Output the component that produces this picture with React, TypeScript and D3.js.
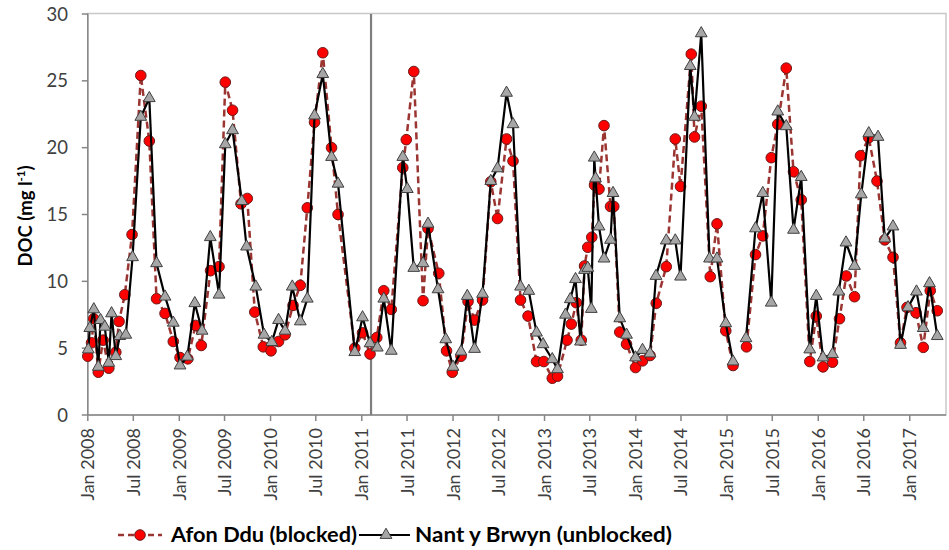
import React from "react";
import * as d3 from "d3";

const W = 949;
const H = 550;

// Afon Ddu (blocked)
const afonDates = [
  "2008-01-01","2008-01-16","2008-01-25","2008-02-12","2008-03-02","2008-03-25","2008-04-22","2008-05-05","2008-05-28","2008-06-26",
  "2008-07-31","2008-09-03","2008-10-02","2008-11-05","2008-12-08","2009-01-04","2009-02-04","2009-03-07","2009-03-30","2009-05-06",
  "2009-06-09","2009-07-04","2009-08-02","2009-09-05","2009-09-30","2009-10-30","2009-12-03","2010-01-03","2010-02-02","2010-02-28",
  "2010-04-01","2010-04-30","2010-05-28","2010-06-26","2010-07-29","2010-09-02","2010-09-28","2010-12-04","2011-01-04","2011-02-03",
  "2011-03-02","2011-03-30","2011-04-29","2011-06-14","2011-06-28","2011-07-28","2011-09-03","2011-09-23","2011-11-05","2011-12-06",
  "2011-12-29","2012-02-02","2012-03-01","2012-03-27","2012-04-28","2012-05-31","2012-06-27","2012-08-02","2012-08-28","2012-09-27",
  "2012-10-27","2012-11-30","2012-12-29","2013-02-01","2013-02-22","2013-04-01","2013-04-18","2013-05-08","2013-05-28","2013-06-10",
  "2013-06-23","2013-07-09","2013-07-20","2013-08-07","2013-08-27","2013-09-22","2013-10-05","2013-10-29","2013-11-25","2013-12-31",
  "2014-01-28","2014-02-27","2014-03-24","2014-05-03","2014-06-08","2014-06-29","2014-08-11","2014-08-24","2014-09-20","2014-10-26",
  "2014-11-22","2014-12-27","2015-01-25","2015-02-20","2015-03-20","2015-04-25","2015-05-24","2015-06-27","2015-07-23","2015-08-26",
  "2015-09-24","2015-10-25","2015-11-28","2015-12-24","2016-01-20","2016-02-27","2016-03-26","2016-04-22","2016-05-25","2016-06-18",
  "2016-07-21","2016-08-23","2016-09-23","2016-10-26","2016-11-25","2016-12-21","2017-01-26","2017-02-24","2017-03-24","2017-04-21",
];
const afonValues: (number | null)[] = [
  4.4, 5.4, 7.2, 3.2, 5.6, 3.5, 4.7, 7.0, 9.0, 13.5,
  25.4, 20.5, 8.7, 7.6, 5.5, 4.3, 4.2, 6.7, 5.2, 10.8,
  11.1, 24.9, 22.8, 15.8, 16.2, 7.7, 5.1, 4.8, 5.5, 6.0,
  8.2, 9.7, 15.5, 21.9, 27.1, 20.0, 15.0, 5.0, 6.15, 4.56,
  5.8, 9.3, 7.9, 18.5, 20.6, 25.7, 8.55, 13.95, 10.6, 4.8,
  3.2, 4.4, 8.5, 7.1, 8.6, 17.45, 14.7, 20.65, 19.0, 8.6,
  7.4, 4.0, 4.0, 2.75, 2.9, 5.6, 6.8, 8.4, 5.6, 11.15,
  12.55, 13.3, 17.2, 16.9, 21.65, 15.6, 15.6, 6.2, 5.3, 3.55,
  4.05, 4.45, 8.36, 11.1, 20.65, 17.1, 27.0, 20.8, 23.1, 10.35,
  14.3, 6.3, 3.7, null, 5.1, 12.0, 13.4, 19.25, 21.75, 25.95,
  18.2, 16.1, 4.0, 7.4, 3.6, 3.95, 7.2, 10.4, 8.85, 19.4,
  20.75, 17.5, 13.1, 11.8, 5.4, 8.05, 7.65, 5.06, 9.3, 7.8,
];

// Nant y Brwyn (unblocked)
const nantDates = [
  "2008-01-03","2008-01-09","2008-01-25","2008-02-12","2008-02-21","2008-03-09","2008-03-25","2008-04-05","2008-04-22","2008-05-08",
  "2008-06-01","2008-06-28","2008-07-31","2008-09-03","2008-10-02","2008-11-05","2008-12-08","2009-01-04","2009-02-02","2009-03-04",
  "2009-04-02","2009-05-05","2009-06-09","2009-07-04","2009-08-02","2009-09-08","2009-09-27","2009-11-03","2009-12-06","2010-01-06",
  "2010-02-02","2010-02-28","2010-03-29","2010-04-30","2010-05-28","2010-06-26","2010-07-29","2010-09-02","2010-09-28","2010-12-04",
  "2011-01-04","2011-02-03","2011-03-04","2011-03-30","2011-04-29","2011-06-14","2011-07-02","2011-07-28","2011-09-03","2011-09-23",
  "2011-11-02","2011-12-03","2012-01-01","2012-02-02","2012-02-27","2012-03-27","2012-04-28","2012-05-31","2012-06-27","2012-08-02",
  "2012-08-28","2012-09-27","2012-10-30","2012-11-30","2012-12-26","2013-02-01","2013-02-22","2013-03-26","2013-04-14","2013-05-05",
  "2013-05-25","2013-06-10","2013-06-23","2013-07-07","2013-07-19","2013-07-24","2013-08-07","2013-08-27","2013-09-22","2013-10-02",
  "2013-10-29","2013-11-25","2013-12-31","2014-01-28","2014-02-27","2014-03-23","2014-05-03","2014-06-08","2014-06-29","2014-08-07",
  "2014-08-24","2014-09-20","2014-10-23","2014-11-22","2014-12-27","2015-01-25","2015-02-20","2015-03-18","2015-04-25","2015-05-24",
  "2015-06-27","2015-07-23","2015-08-26","2015-09-24","2015-10-25","2015-11-28","2015-12-24","2016-01-20","2016-02-27","2016-03-23",
  "2016-04-21","2016-05-25","2016-06-21","2016-07-21","2016-08-27","2016-09-23","2016-10-26","2016-11-25","2016-12-25","2017-01-28",
  "2017-02-24","2017-03-21","2017-04-21",
];
const nantValues: (number | null)[] = [
  4.9, 6.5, 7.9, 3.6, 7.1, 6.6, 3.9, 7.6, 4.4, 5.9,
  6.0, 11.8, 22.3, 23.7, 11.35, 8.85, 6.9, 3.7, 4.36, 8.36,
  6.3, 13.3, 9.0, 20.25, 21.3, 16.0, 12.6, 9.6, 6.0, 5.45,
  7.1, 6.3, 9.6, 7.0, 8.7, 22.4, 25.5, 19.3, 17.3, 4.7,
  7.3, 5.36, 5.04, 8.7, 4.8, 19.3, 16.9, 11.0, 11.35, 14.3,
  9.4, 5.66, 3.6, 4.74, 8.9, 4.94, 9.06, 17.5, 18.45, 24.1,
  21.75, 9.6, 9.28, 6.16, 5.29, 4.17, 3.42, 7.5, 8.66, 10.16,
  5.49, 10.85, 11.0, 7.93, 19.25, 17.7, 14.1, 11.7, 13.1, 16.6,
  7.23, 6.0, 4.3, 4.86, 4.6, 10.4, 13.05, 13.05, 10.35, 26.1,
  22.3, 28.55, 11.7, 11.7, 6.86, 4.0, null, 5.74, 13.96, 16.6,
  8.4, 22.7, 21.6, 13.85, 17.8, 4.9, 8.9, 4.3, 4.55, 9.23,
  12.9, 11.15, 16.5, 21.07, 20.8, 13.2, 14.1, 5.24, 8.05, 9.23,
  6.5, 9.85, 5.9,
];

const seriesNames = ["Afon Ddu (blocked)", "Nant y Brwyn (unblocked)"];
const yTicks = [0, 5, 10, 15, 20, 25, 30];
const xDomain = ["2008-01-01", "2017-05-26"];
const blockingDate = "2011-02-07";
const yTitle = "DOC (mg l";

const parse = d3.timeParse("%Y-%m-%d");
const fmt = d3.timeFormat("%b %Y");

type Pt = { d: Date; v: number | null };

export default function App() {
  const left = 87.8, right = 946, top = 14, bottom = 415;
  const x = d3.scaleTime().domain(xDomain.map((s) => parse(s) as Date)).range([left, right]);
  const y = d3.scaleLinear().domain([0, 30]).range([bottom, top]);

  const afon: Pt[] = afonDates.map((s, i) => ({ d: parse(s) as Date, v: afonValues[i] }));
  const nant: Pt[] = nantDates.map((s, i) => ({ d: parse(s) as Date, v: nantValues[i] }));

  const line = d3
    .line<Pt>()
    .defined((p) => p.v !== null)
    .x((p) => x(p.d))
    .y((p) => y(p.v as number));

  const xTicks = d3.timeMonth.every(6)!.range(parse("2008-01-01") as Date, parse("2017-02-01") as Date);
  const tri = d3.symbol(d3.symbolTriangle, 60)() as string;
  const bx = x(parse(blockingDate) as Date);

  const redLine = "#9b3532";
  const font = "Lato, 'Open Sans', sans-serif";

  return (
    <div style={{ position: "fixed", left: 0, top: 0, width: W, height: H, background: "#fff" }}>
      <svg width={W} height={H} style={{ display: "block" }}>
        <rect x={0} y={0} width={W} height={H} fill="#fff" />
        {/* plot border */}
        <rect x={left} y={top - 0.5} width={right - left} height={bottom - top + 0.5} fill="none" stroke="#c8c8c8" strokeWidth={1.5} />
        {/* y axis */}
        <line x1={left} x2={left} y1={top - 0.5} y2={bottom} stroke="#868686" strokeWidth={1.5} />
        {yTicks.map((t) => (
          <g key={t}>
            <line x1={left - 6} x2={left} y1={y(t)} y2={y(t)} stroke="#868686" strokeWidth={1.5} />
            <text x={68} y={y(t)} dy="0.36em" textAnchor="end" fontFamily={font} fontSize={18.5} fill="#404040">
              {t}
            </text>
          </g>
        ))}
        {/* x axis */}
        <line x1={left} x2={right} y1={bottom} y2={bottom} stroke="#868686" strokeWidth={1.5} />
        {xTicks.map((t, i) => (
          <g key={i}>
            <line x1={x(t)} x2={x(t)} y1={bottom} y2={bottom + 6} stroke="#868686" strokeWidth={1.5} />
            <text
              transform={`translate(${x(t)},428) rotate(-90)`}
              dy="0.36em"
              textAnchor="end"
              fontFamily={font}
              fontSize={18}
              fill="#404040"
            >
              {fmt(t)}
            </text>
          </g>
        ))}
        {/* blocking line */}
        <line x1={bx} x2={bx} y1={top} y2={bottom} stroke="#7f7f7f" strokeWidth={2.2} />

        {/* y title */}
        <text transform={`translate(32,216) rotate(-90)`} textAnchor="middle" fontFamily={font} fontSize={18.5} fontWeight="bold" fill="#000">
          {yTitle}
          <tspan fontSize={11.5} dy={-7}>-1</tspan>
          <tspan dy={7}>)</tspan>
        </text>

        {/* Afon Ddu series */}
        <path d={line(afon) || ""} fill="none" stroke={redLine} strokeWidth={2.5} strokeDasharray="7,4" />
        {afon
          .filter((p) => p.v !== null)
          .map((p, i) => (
            <circle key={i} cx={x(p.d)} cy={y(p.v as number)} r={5.3} fill="#ff0000" stroke="#6b1a1a" strokeWidth={1} />
          ))}

        {/* Nant y Brwyn series */}
        <path d={line(nant) || ""} fill="none" stroke="#000" strokeWidth={2.2} />
        {nant
          .filter((p) => p.v !== null)
          .map((p, i) => (
            <path key={i} d={tri} transform={`translate(${x(p.d)},${y(p.v as number)})`} fill="#a6a6a6" stroke="#404040" strokeWidth={1} />
          ))}

        {/* legend */}
        <g>
          <line x1={118} x2={162} y1={535} y2={535} stroke={redLine} strokeWidth={2.5} strokeDasharray="6,4" />
          <circle cx={140} cy={535} r={5.3} fill="#ff0000" stroke="#6b1a1a" strokeWidth={1} />
          <text x={171} y={535} dy="0.36em" fontFamily={font} fontSize={20} fontWeight="bold" fill="#000" textLength={186} lengthAdjust="spacingAndGlyphs">
            {seriesNames[0]}
          </text>
          <line x1={359} x2={410} y1={535} y2={535} stroke="#000" strokeWidth={2.2} />
          <path d={tri} transform="translate(386,535)" fill="#a6a6a6" stroke="#404040" strokeWidth={1} />
          <text x={415} y={535} dy="0.36em" fontFamily={font} fontSize={20} fontWeight="bold" fill="#000" textLength={257} lengthAdjust="spacingAndGlyphs">
            {seriesNames[1]}
          </text>
        </g>
      </svg>
    </div>
  );
}
